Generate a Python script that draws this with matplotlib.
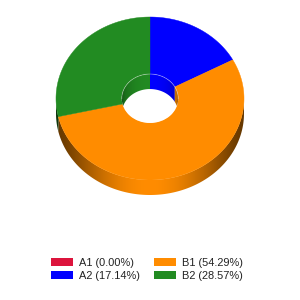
import numpy as np
import matplotlib.pyplot as plt
import matplotlib.colors as mcolors
from matplotlib.patches import Polygon, Ellipse, Patch

# Daten
labels = ['A1', 'A2', 'B1', 'B2']
shares = [0.00, 17.14, 54.29, 28.57]
colors = ['#DC143C', '#0000FF', '#FF8C00', '#228B22']

# Geometrie der 3D-Torte (Pixel)
cx, cy = 150, 98.5
rx, ry = 94, 81.5
hole = 0.3
depth = 15


def pt(t, r=1.0, dy=0.0):
    t = np.radians(t)
    return cx + r * rx * np.sin(t), cy - r * ry * np.cos(t) + dy


fig = plt.figure(figsize=(3, 3), dpi=100)
ax = fig.add_axes([0, 0, 1, 1])
ax.axis('off')

# Winkelbereiche der Stücke (im Uhrzeigersinn ab 12 Uhr)
edges = np.concatenate([[0], np.cumsum(shares)]) / 100 * 360
slices = [(edges[i], edges[i + 1], colors[i]) for i in range(len(shares)) if shares[i] > 0]


def gradient_fill(xy, color, f_of_x, zorder):
    # Fläche mit horizontalem Helligkeitsverlauf füllen
    poly = Polygon(xy, closed=True, fc='none', ec='none')
    ax.add_patch(poly)
    x0, x1 = xy[:, 0].min() - 1, xy[:, 0].max() + 1
    y0, y1 = xy[:, 1].min() - 1, xy[:, 1].max() + 1
    xs = np.linspace(x0, x1, 200)
    f = f_of_x(xs)[None, :, None]
    img = np.clip(np.array(mcolors.to_rgb(color))[None, None, :] * f, 0, 1)
    img = np.repeat(img, 2, axis=0)
    im = ax.imshow(img, extent=(x0, x1, y1, y0), aspect='auto',
                   interpolation='bilinear', zorder=zorder)
    im.set_clip_path(poly)


# Außenwand (vorne, 90°..270°)
def outer_f(x):
    u = np.clip((x - cx) / rx, -1, 1)
    return 0.4 + 0.6 * (1 - u ** 2) ** 1.5


for a, b, c in slices:
    lo, hi = max(a, 90), min(b, 270)
    if hi <= lo:
        continue
    ts = np.linspace(lo, hi, 200)
    xt, yt = pt(ts)
    xb, yb = pt(ts[::-1], dy=depth)
    xy = np.column_stack([np.r_[xt, xb], np.r_[yt, yb]])
    gradient_fill(xy, c, outer_f, 1)

# Oberseite
for a, b, c in slices:
    ts = np.linspace(a, b, max(int(b - a) * 2, 2))
    xo, yo = pt(ts)
    xi, yi = pt(ts[::-1], hole)
    ax.add_patch(Polygon(np.column_stack([np.r_[xo, xi], np.r_[yo, yi]]),
                         closed=True, fc=c, ec=c, lw=0.3, zorder=2))

# Loch
irx, iry = hole * rx, hole * ry
ax.add_patch(Ellipse((cx, cy), 2 * irx, 2 * iry, fc='white', ec='none', zorder=3))


# Innenwand (hinten, -90°..90°)
def inner_f(x):
    u = np.clip((x - cx) / irx, -1, 1)
    return 0.5 + 0.5 * (1 - u ** 2) ** 0.35


for a, b, c in slices:
    for off in (0, -360):
        lo, hi = max(a + off, -90), min(b + off, 90)
        if hi <= lo:
            continue
        xs = cx + irx * np.sin(np.radians(np.linspace(lo, hi, 150)))
        u = (xs - cx) / irx
        top = cy - iry * np.sqrt(np.clip(1 - u ** 2, 0, 1))
        bot = np.minimum(cy + iry * np.sqrt(np.clip(1 - u ** 2, 0, 1)), top + depth)
        xy = np.column_stack([np.r_[xs, xs[::-1]], np.r_[top, bot[::-1]]])
        gradient_fill(xy, c, inner_f, 4)

ts = np.linspace(-90, 90, 100)
xl, yl = pt(ts, hole)
ax.plot(xl, yl, color='white', alpha=0.35, lw=0.6, zorder=5)

# Legende
handles = [Patch(fc=c, ec='none') for c in colors]
texts = [f'{l} ({s:.2f}%)' for l, s in zip(labels, shares)]
ax.legend(handles, texts, ncol=2, loc='center', bbox_to_anchor=(0.49, 0.1017),
          frameon=False, prop={'family': 'Liberation Sans', 'size': 7.9},
          handlelength=2.0, handleheight=0.73, handletextpad=0.5,
          columnspacing=1.3, labelspacing=0.3, borderpad=0, labelcolor='#222222')

ax.set_xlim(0, 300)
ax.set_ylim(300, 0)
fig.savefig('out.png', dpi=100)
